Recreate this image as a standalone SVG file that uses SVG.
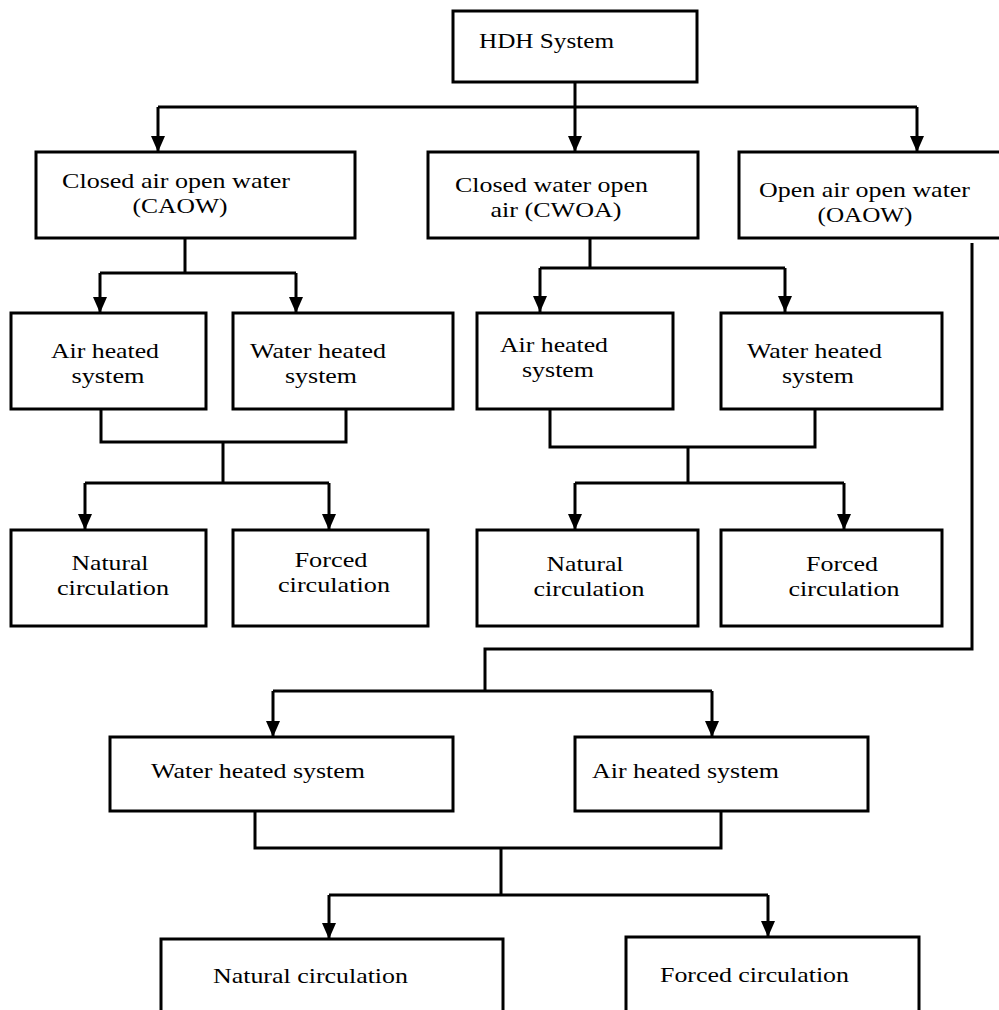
<svg xmlns="http://www.w3.org/2000/svg" width="999" height="1010" viewBox="0 0 999 1010">
<style>
.box{fill:#fff;stroke:#000;stroke-width:3}
.c{fill:none;stroke:#000;stroke-width:3}
.a{fill:none;stroke:#000;stroke-width:3;marker-end:url(#ah)}
text{font-family:"Liberation Serif","Times New Roman",serif;font-size:22px;fill:#000}
.m{text-anchor:middle}
</style>
<defs>
<marker id="ah" markerUnits="userSpaceOnUse" markerWidth="16" markerHeight="14" viewBox="0 0 16 14" refX="16" refY="7" orient="auto">
<path d="M0,0 L16,7 L0,14 Z" fill="#000"/>
</marker>
</defs>
<rect width="999" height="1010" fill="#fff"/>
<g id="connectors">
<path class="c" d="M575 82 V107 M158 107 H917"/>
<path class="a" d="M158 107 V152"/>
<path class="a" d="M575 107 V152"/>
<path class="a" d="M917 107 V152"/>
<path class="c" d="M185 238 V273 M100 273 H296"/>
<path class="a" d="M100 273 V313"/>
<path class="a" d="M296 273 V313"/>
<path class="c" d="M590 238 V268 M540 268 H785"/>
<path class="a" d="M540 268 V312"/>
<path class="a" d="M785 268 V312"/>
<path class="c" d="M101 409 V442 H346 V409 M223 442 V483 M85 483 H329"/>
<path class="a" d="M85 483 V530"/>
<path class="a" d="M329 483 V530"/>
<path class="c" d="M550 409 V447 H815 V409 M688 447 V483 M575 483 H844"/>
<path class="a" d="M575 483 V530"/>
<path class="a" d="M844 483 V530"/>
<path class="c" d="M972 243 V649 H485 V691 M273 691 H712"/>
<path class="a" d="M273 691 V737"/>
<path class="a" d="M712 691 V737"/>
<path class="c" d="M255 811 V848 H721 V811 M501 848 V895 M329 895 H768"/>
<path class="a" d="M329 895 V939"/>
<path class="a" d="M768 895 V937"/>
</g>
<g id="hdh"><rect class="box" x="453" y="11" width="244" height="71"/><text x="479" y="48" textLength="135" lengthAdjust="spacingAndGlyphs">HDH System</text></g>
<g id="caow"><rect class="box" x="36" y="152" width="319" height="86"/><text x="62" y="188" textLength="228" lengthAdjust="spacingAndGlyphs">Closed air open water</text><text class="m" x="180" y="213" textLength="95" lengthAdjust="spacingAndGlyphs">(CAOW)</text></g>
<g id="cwoa"><rect class="box" x="428" y="152" width="270" height="86"/><text x="455" y="192" textLength="193" lengthAdjust="spacingAndGlyphs">Closed water open</text><text class="m" x="556" y="217" textLength="131" lengthAdjust="spacingAndGlyphs">air (CWOA)</text></g>
<g id="oaow"><rect class="box" x="739" y="152" width="270" height="86"/><text x="759" y="197" textLength="211" lengthAdjust="spacingAndGlyphs">Open air open water</text><text class="m" x="865" y="222" textLength="95" lengthAdjust="spacingAndGlyphs">(OAOW)</text></g>
<g id="caow-air"><rect class="box" x="11" y="313" width="195" height="96"/><text x="51" y="358" textLength="108" lengthAdjust="spacingAndGlyphs">Air heated</text><text class="m" x="108" y="383" textLength="73" lengthAdjust="spacingAndGlyphs">system</text></g>
<g id="caow-water"><rect class="box" x="233" y="313" width="220" height="96"/><text x="250" y="358" textLength="136" lengthAdjust="spacingAndGlyphs">Water heated</text><text class="m" x="321" y="383" textLength="72" lengthAdjust="spacingAndGlyphs">system</text></g>
<g id="cwoa-air"><rect class="box" x="477" y="313" width="196" height="96"/><text x="500" y="352" textLength="108" lengthAdjust="spacingAndGlyphs">Air heated</text><text class="m" x="558" y="377" textLength="72" lengthAdjust="spacingAndGlyphs">system</text></g>
<g id="cwoa-water"><rect class="box" x="721" y="313" width="221" height="96"/><text x="747" y="358" textLength="135" lengthAdjust="spacingAndGlyphs">Water heated</text><text class="m" x="818" y="383" textLength="72" lengthAdjust="spacingAndGlyphs">system</text></g>
<g id="caow-natural"><rect class="box" x="11" y="530" width="195" height="96"/><text class="m" x="110" y="570" textLength="77" lengthAdjust="spacingAndGlyphs">Natural</text><text class="m" x="113" y="595" textLength="112" lengthAdjust="spacingAndGlyphs">circulation</text></g>
<g id="caow-forced"><rect class="box" x="233" y="530" width="195" height="96"/><text class="m" x="331" y="567" textLength="73" lengthAdjust="spacingAndGlyphs">Forced</text><text class="m" x="334" y="592" textLength="112" lengthAdjust="spacingAndGlyphs">circulation</text></g>
<g id="cwoa-natural"><rect class="box" x="477" y="530" width="221" height="96"/><text class="m" x="585" y="571" textLength="77" lengthAdjust="spacingAndGlyphs">Natural</text><text class="m" x="589" y="596" textLength="111" lengthAdjust="spacingAndGlyphs">circulation</text></g>
<g id="cwoa-forced"><rect class="box" x="721" y="530" width="221" height="96"/><text class="m" x="842" y="571" textLength="72" lengthAdjust="spacingAndGlyphs">Forced</text><text class="m" x="844" y="596" textLength="111" lengthAdjust="spacingAndGlyphs">circulation</text></g>
<g id="oaow-water"><rect class="box" x="110" y="737" width="343" height="74"/><text x="151" y="778" textLength="214" lengthAdjust="spacingAndGlyphs">Water heated system</text></g>
<g id="oaow-air"><rect class="box" x="575" y="737" width="293" height="74"/><text x="592" y="778" textLength="187" lengthAdjust="spacingAndGlyphs">Air heated system</text></g>
<g id="oaow-natural"><rect class="box" x="161" y="939" width="342" height="80"/><text x="213" y="983" textLength="195" lengthAdjust="spacingAndGlyphs">Natural circulation</text></g>
<g id="oaow-forced"><rect class="box" x="626" y="937" width="293" height="80"/><text x="660" y="982" textLength="189" lengthAdjust="spacingAndGlyphs">Forced circulation</text></g>
</svg>
